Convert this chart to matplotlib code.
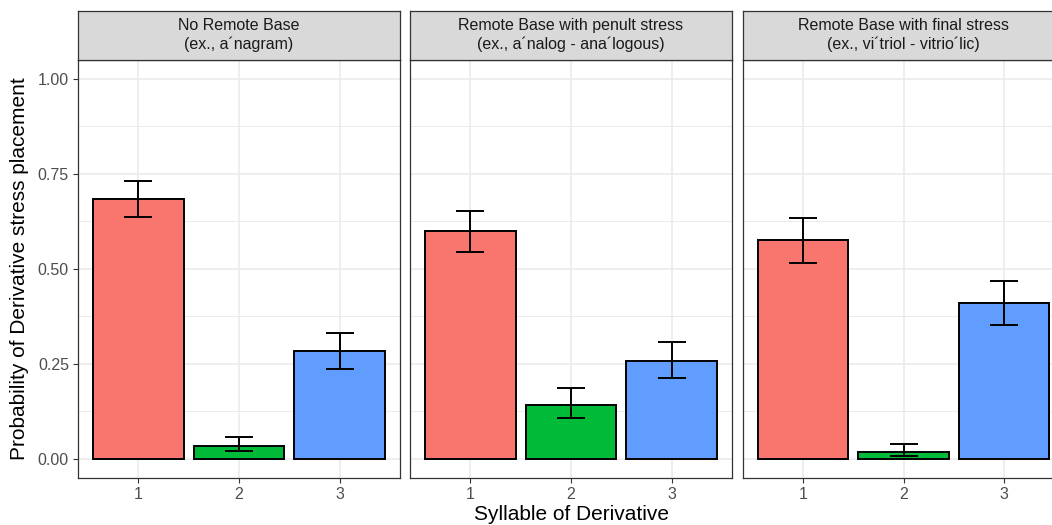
import matplotlib
matplotlib.use("Agg")
import matplotlib.pyplot as plt
import numpy as np

plt.rcParams['font.family'] = ['Liberation Sans', 'DejaVu Sans']

# data
syllables = ["1", "2", "3"]
panel_titles = [
    "No Remote Base\n(ex., a\u00b4nagram)",
    "Remote Base with penult stress\n(ex., a\u00b4nalog - ana\u00b4logous)",
    "Remote Base with final stress\n(ex., vi\u00b4triol - vitrio\u00b4lic)",
]
prob = [
    [0.684, 0.034, 0.282],
    [0.600, 0.142, 0.258],
    [0.577, 0.016, 0.409],
]
err_low = [
    [0.637, 0.021, 0.237],
    [0.545, 0.108, 0.213],
    [0.516, 0.007, 0.351],
]
err_high = [
    [0.732, 0.058, 0.332],
    [0.653, 0.187, 0.308],
    [0.634, 0.039, 0.469],
]
bar_colors = ["#F8766D", "#00BA38", "#619CFF"]

W, H = 1052, 525
fig = plt.figure(figsize=(W / 100, H / 100), dpi=100)

panel_left = [78, 410, 742.5]
panel_w = 322
top, bottom, strip_top = 60, 477.5, 10.5

for i in range(3):
    l = panel_left[i]
    ax = fig.add_axes([l / W, (H - bottom) / H, panel_w / W, (bottom - top) / H])
    x = np.arange(1, 4)
    ax.bar(x, prob[i], width=0.9, color=bar_colors, edgecolor="black",
           linewidth=1.4, zorder=3)
    yerr = [np.array(prob[i]) - np.array(err_low[i]),
            np.array(err_high[i]) - np.array(prob[i])]
    ax.errorbar(x, prob[i], yerr=yerr, fmt="none", ecolor="black",
                elinewidth=1.4, capsize=10, capthick=1.4, zorder=4)
    ax.set_xlim(0.4, 3.6)
    ax.set_ylim(-0.05, 1.05)
    ax.set_xticks(x)
    ax.set_xticklabels(syllables)
    ax.set_yticks([0, 0.25, 0.5, 0.75, 1.0])
    ax.set_yticks([0.125, 0.375, 0.625, 0.875], minor=True)
    ax.set_yticklabels(["0.00", "0.25", "0.50", "0.75", "1.00"])
    ax.grid(True, which="major", color="#EBEBEB", linewidth=1.2, zorder=0)
    ax.grid(True, which="minor", axis="y", color="#EBEBEB", linewidth=0.7, zorder=0)
    ax.set_axisbelow(True)
    ax.tick_params(axis="both", which="major", length=3.5, width=0.8,
                   color="#333333", labelcolor="#4D4D4D", labelsize=11.5, pad=3)
    ax.tick_params(axis="both", which="minor", length=0)
    for s in ax.spines.values():
        s.set_color("#333333")
        s.set_linewidth(0.9)
    if i > 0:
        ax.tick_params(axis="y", which="major", left=False, labelleft=False)

    sax = fig.add_axes([l / W, (H - top) / H, panel_w / W, (top - strip_top) / H])
    sax.set_facecolor("#D9D9D9")
    sax.set_xticks([])
    sax.set_yticks([])
    for s in sax.spines.values():
        s.set_color("#333333")
        s.set_linewidth(0.9)
    sax.text(0.5, 0.5, panel_titles[i], ha="center", va="center",
             fontsize=11.5, color="#1A1A1A", linespacing=1.25,
             transform=sax.transAxes)

fig.text(571 / W, (H - 514) / H, "Syllable of Derivative", ha="center",
         va="center", fontsize=15)
fig.text(20 / W, (H - 269) / H, "Probability of Derivative stress placement",
         ha="center", va="center", rotation=90, fontsize=15)

fig.savefig("out.png", dpi=100)
